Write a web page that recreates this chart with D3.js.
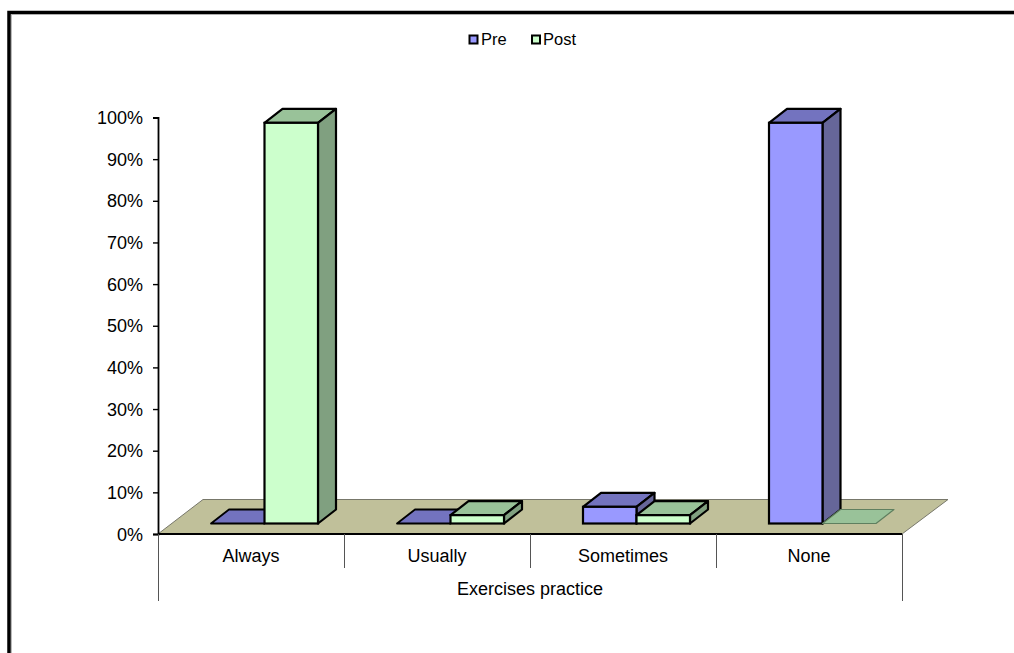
<!DOCTYPE html>
<html>
<head>
<meta charset="utf-8">
<script src="https://cdn.jsdelivr.net/npm/d3@7"></script>
<style>
html, body { margin: 0; padding: 0; background: #fff; }
svg { display: block; }
text { font-family: "Liberation Sans", Arial, sans-serif; font-size: 18px; fill: #000; }
.legend text { font-size: 16.5px; }
</style>
</head>
<body>
<svg id="chart" width="1014" height="653"></svg>
<script>
var categories = ["Always", "Usually", "Sometimes", "None"];
var seriesNames = ["Pre", "Post"];
var preValues = [0, 0, 4, 96.2];
var postValues = [96.2, 2, 2, 0];
var yTicks = [0, 10, 20, 30, 40, 50, 60, 70, 80, 90, 100];
var xTitle = "Exercises practice";

var colors = {
    Pre: { front: "#9999ff", top: "#7373bf", side: "#666699" },
    Post: { front: "#ccffcc", top: "#99c299", side: "#80a080" }
};

var svg = d3.select("#chart");
var plotLeft = 158, plotRight = 902, plotTop = 117.5, plotBottom = 534;
var floorDx = 45, floorDy = 34.5;   // depth of the floor
var depthDx = 18, depthDy = 14;     // depth of a bar
var barDx = 13.5, barDy = 10.5;     // bars stand this far back on the floor

var x = d3.scaleBand().domain(categories).range([plotLeft, plotRight]);
var inner = d3.scaleBand().domain(seriesNames).range([x.bandwidth() / 2 - 53.5, x.bandwidth() / 2 + 53.5]);
var y = d3.scaleLinear().domain([0, 100]).range([plotBottom, plotTop]);

// frame, only left and top are visible in the picture
svg.append("path").attr("d", "M9,653V12.5H1014").attr("fill", "none").attr("stroke", "#000").attr("stroke-width", 3.5);
svg.append("path").attr("d", "M11.5,653V14.5H1014").attr("fill", "none").attr("stroke", "#aaa").attr("stroke-width", 0.8);

// floor
svg.append("polygon")
    .attr("points", [[plotLeft, plotBottom], [plotLeft + floorDx, plotBottom - floorDy], [plotRight + floorDx + 1, plotBottom - floorDy], [plotRight, plotBottom]].join(" "))
    .attr("fill", "#c0c09a")
    .attr("stroke", "#77776a")
    .attr("stroke-width", 1);

// y axis
var yAxis = d3.axisLeft(y).tickValues(yTicks).tickSize(5).tickPadding(10).tickFormat(function (d) { return d + "%"; });
var gy = svg.append("g").attr("transform", "translate(" + plotLeft + ",0)").call(yAxis);
gy.attr("font-family", null).attr("font-size", null);
gy.select(".domain").attr("stroke", "#000").attr("stroke-width", 1.8);
gy.selectAll(".tick line").attr("stroke", "#000").attr("stroke-width", 1.4);
gy.selectAll("text").attr("x", -15).attr("dy", "0.34em");

// x axis, two level
var gx = svg.append("g").attr("class", "x-axis");
gx.append("line").attr("x1", plotLeft).attr("x2", plotRight).attr("y1", plotBottom).attr("y2", plotBottom)
    .attr("stroke", "#000").attr("stroke-width", 1.8);
var edges = categories.map(function (c) { return x(c); }).concat([plotRight]);
gx.selectAll(".sep").data(edges).enter().append("line")
    .attr("class", "sep")
    .attr("x1", function (d) { return d + 0.5; })
    .attr("x2", function (d) { return d + 0.5; })
    .attr("y1", plotBottom)
    .attr("y2", function (d, i) { return (i === 0 || i === categories.length) ? 601 : 568; })
    .attr("stroke", "#555")
    .attr("stroke-width", 1);
gx.selectAll(".cat").data(categories).enter().append("text")
    .attr("class", "cat")
    .attr("x", function (d) { return x(d) + x.bandwidth() / 2; })
    .attr("y", 562)
    .attr("text-anchor", "middle")
    .text(function (d) { return d; });
gx.append("text").attr("x", (plotLeft + plotRight) / 2).attr("y", 595).attr("text-anchor", "middle").text(xTitle);

// bars, drawn back to front in series order
function pts(list) { return list.map(function (p) { return p.join(","); }).join(" "); }

function drawBar(g, cat, name, value) {
    var c = colors[name];
    var x0 = x(cat) + inner(name) + barDx, x1 = x0 + inner.bandwidth();
    var base = plotBottom - barDy;
    var h = y(0) - y(value);
    var t = base - h;
    var line = value > 0 || name === "Pre" ? "#000" : "#5f7f5f";
    var w = value > 0 ? 2.2 : (name === "Pre" ? 1.8 : 1.2);
    g.append("polygon")
        .attr("points", pts([[x0, t], [x0 + depthDx, t - depthDy], [x1 + depthDx, t - depthDy], [x1, t]]))
        .attr("fill", c.top).attr("stroke", line).attr("stroke-width", w).attr("stroke-linejoin", "round");
    if (value > 0) {
        g.append("polygon")
            .attr("points", pts([[x1, t], [x1 + depthDx, t - depthDy], [x1 + depthDx, base - depthDy], [x1, base]]))
            .attr("fill", c.side).attr("stroke", line).attr("stroke-width", w).attr("stroke-linejoin", "round");
        g.append("rect")
            .attr("x", x0).attr("y", t).attr("width", x1 - x0).attr("height", h)
            .attr("fill", c.front).attr("stroke", line).attr("stroke-width", w);
    }
}

var barsG = svg.append("g").attr("class", "bars");
categories.forEach(function (cat, i) {
    drawBar(barsG, cat, "Pre", preValues[i]);
    drawBar(barsG, cat, "Post", postValues[i]);
});

// legend
var legendX = [469.5, 532];
var legend = svg.append("g").attr("class", "legend");
seriesNames.forEach(function (name, i) {
    legend.append("rect").attr("x", legendX[i]).attr("y", 35.5).attr("width", 8).attr("height", 8)
        .attr("fill", colors[name].front).attr("stroke", "#000").attr("stroke-width", 2);
    legend.append("text").attr("x", i === 0 ? 481 : 543).attr("y", 45).text(name);
});
</script>
</body>
</html>
